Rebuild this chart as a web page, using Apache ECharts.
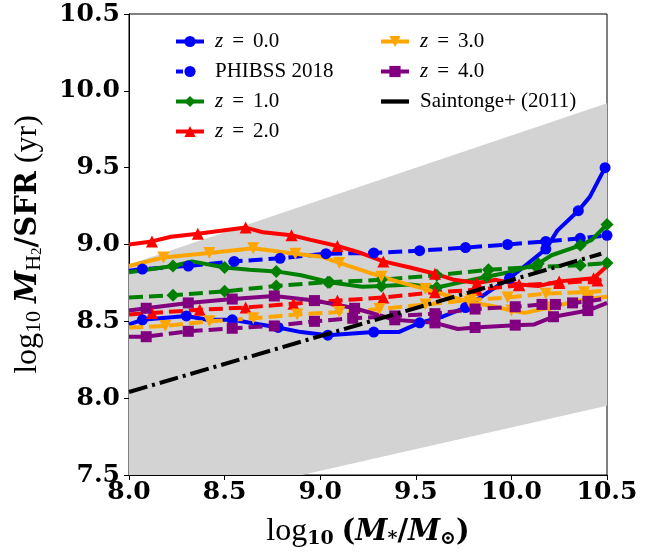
<!DOCTYPE html>
<html><head><meta charset="utf-8">
<script src="https://cdn.jsdelivr.net/npm/echarts@6/dist/echarts.min.js"></script>
<style>html,body{margin:0;padding:0;background:#fff}#c{width:660px;height:554px}</style>
</head><body><div id="c"></div>
<script>
// ---- data ----
const bandX = [8.0, 10.5];
const bandLow = [7.245, 7.95];
const bandHigh = [8.87, 9.92];

const saintX = [8.0, 10.47];
const saintY = [8.04, 8.94];

const z0X = [8.0, 8.07, 8.30, 8.41, 8.54, 8.78, 8.90, 9.04, 9.28, 9.41, 9.52, 9.64, 9.76, 9.89, 9.99, 10.07, 10.18, 10.24, 10.35, 10.41, 10.49];
const z0Y = [8.48, 8.51, 8.535, 8.51, 8.51, 8.46, 8.43, 8.41, 8.43, 8.43, 8.49, 8.53, 8.59, 8.70, 8.78, 8.86, 8.97, 9.09, 9.22, 9.31, 9.50];
const z0M = [0,1,1,0,1,1,0,1,1,0,1,0,1,0,1,0,1,0,1,0,1];

const phX = [8.0, 8.07, 8.31, 8.55, 8.79, 9.03, 9.28, 9.52, 9.76, 9.98, 10.18, 10.36, 10.5];
const phY = [8.83, 8.84, 8.86, 8.89, 8.91, 8.94, 8.945, 8.96, 8.98, 9.0, 9.02, 9.04, 9.06];
const phM = [0,1,1,1,1,1,1,1,1,1,1,1,1];

const z1X = [8.0, 8.23, 8.33, 8.50, 8.63, 8.77, 8.90, 9.05, 9.22, 9.32, 9.47, 9.61, 9.74, 9.87, 9.99, 10.14, 10.21, 10.36, 10.42, 10.5];
const z1Y = [8.82, 8.86, 8.89, 8.85, 8.835, 8.825, 8.80, 8.755, 8.725, 8.73, 8.74, 8.72, 8.755, 8.79, 8.82, 8.875, 8.93, 8.995, 9.03, 9.13];
const z1M = [0,1,0,1,0,1,0,1,0,1,0,1,0,1,0,1,0,1,0,1];

const z1dX = [8.0, 8.23, 8.50, 8.77, 9.04, 9.32, 9.61, 9.88, 10.13, 10.36, 10.5];
const z1dY = [8.655, 8.67, 8.695, 8.73, 8.755, 8.77, 8.80, 8.835, 8.855, 8.865, 8.88];
const z1dM = [0,1,1,1,1,1,1,1,1,1,1];

const z2X = [8.0, 8.12, 8.22, 8.36, 8.61, 8.70, 8.85, 8.95, 9.09, 9.20, 9.33, 9.47, 9.60, 9.70, 9.82, 9.92, 10.04, 10.14, 10.25, 10.43, 10.5];
const z2Y = [9.0, 9.02, 9.05, 9.07, 9.11, 9.08, 9.06, 9.03, 8.99, 8.95, 8.89, 8.85, 8.81, 8.77, 8.75, 8.77, 8.74, 8.73, 8.76, 8.78, 8.86];
const z2M = [0,1,0,1,1,0,1,0,1,0,1,0,1,0,1,0,1,0,1,1,0];

const z2dX = [8.0, 8.12, 8.37, 8.61, 8.86, 9.09, 9.33, 9.60, 9.82, 10.04, 10.25, 10.45, 10.5];
const z2dY = [8.545, 8.555, 8.575, 8.59, 8.615, 8.635, 8.655, 8.69, 8.705, 8.735, 8.75, 8.765, 8.78];
const z2dM = [0,1,1,1,1,1,1,1,1,1,1,1,0];

const z3X = [8.0, 8.18, 8.30, 8.42, 8.65, 8.87, 9.01, 9.10, 9.20, 9.32, 9.43, 9.55, 9.66, 9.78, 9.90, 10.0, 10.07, 10.2, 10.3, 10.4, 10.5];
const z3Y = [8.86, 8.915, 8.93, 8.945, 8.975, 8.94, 8.92, 8.88, 8.84, 8.79, 8.75, 8.71, 8.67, 8.625, 8.60, 8.57, 8.555, 8.59, 8.62, 8.645, 8.66];
const z3M = [0,1,0,1,1,1,0,1,0,1,0,1,0,1,0,1,0,1,0,1,0];

const z3dX = [8.0, 8.19, 8.42, 8.65, 8.88, 9.10, 9.31, 9.55, 9.79, 9.98, 10.18, 10.38, 10.5];
const z3dY = [8.46, 8.47, 8.50, 8.52, 8.545, 8.56, 8.58, 8.61, 8.64, 8.655, 8.68, 8.69, 8.70];
const z3dM = [0,1,1,1,1,1,1,1,1,1,1,1,0];

const z4X = [8.0, 8.09, 8.31, 8.54, 8.76, 8.97, 9.18, 9.39, 9.60, 9.72, 9.81, 10.02, 10.12, 10.22, 10.40, 10.5];
const z4Y = [8.57, 8.585, 8.62, 8.645, 8.665, 8.635, 8.585, 8.51, 8.49, 8.45, 8.46, 8.475, 8.48, 8.53, 8.57, 8.62];
const z4M = [0,1,1,1,1,1,1,1,1,0,1,1,0,1,1,0];

const z4dX = [8.0, 8.09, 8.31, 8.54, 8.76, 8.97, 9.17, 9.39, 9.60, 9.81, 10.02, 10.16, 10.23, 10.32, 10.40, 10.5];
const z4dY = [8.40, 8.40, 8.435, 8.455, 8.47, 8.50, 8.52, 8.535, 8.55, 8.58, 8.595, 8.61, 8.61, 8.62, 8.63, 8.65];
const z4dM = [0,1,1,1,1,1,1,1,1,1,1,1,1,1,1,0];

const legendLeft = ['z = 0.0', 'PHIBSS 2018', 'z = 1.0', 'z = 2.0'];
const legendRight = ['z = 3.0', 'z = 4.0', 'Saintonge+ (2011)'];

// ---- build ----
function mk(xs, ys, m) {
  return xs.map((x, i) => m[i] ? [x, ys[i]] : { value: [x, ys[i]], symbol: 'none' });
}
const DASH = [14, 6];
function line(name, color, xs, ys, m, symbol, size, dashed, rot) {
  return {
    name: name, type: 'line', data: mk(xs, ys, m),
    symbol: symbol, symbolSize: size, symbolRotate: rot || 0,
    showSymbol: true, smooth: false, animation: false,
    lineStyle: { color: color, width: 4, type: dashed ? DASH : 'solid' },
    itemStyle: { color: color },
    emphasis: { disabled: true }, z: 3
  };
}

const series = [
  {
    type: 'custom', name: 'band', silent: true, animation: false, z: 1,
    data: [0],
    renderItem: function (params, api) {
      const pts = [];
      for (let i = 0; i < bandX.length; i++) pts.push(api.coord([bandX[i], bandHigh[i]]));
      for (let i = bandX.length - 1; i >= 0; i--) pts.push(api.coord([bandX[i], bandLow[i]]));
      const cs = params.coordSys;
      return {
        type: 'polygon', shape: { points: pts }, style: { fill: '#d3d3d3' },
        clipPath: { type: 'rect', shape: { x: cs.x, y: cs.y, width: cs.width, height: cs.height } }
      };
    }
  },
  line('z = 0.0', '#0000ff', z0X, z0Y, z0M, 'circle', 11, false),
  line('PHIBSS 2018', '#0000ff', phX, phY, phM, 'circle', 11, true),
  line('z = 1.0', '#008000', z1X, z1Y, z1M, 'diamond', 13, false),
  line('z1d', '#008000', z1dX, z1dY, z1dM, 'diamond', 13, true),
  line('z = 2.0', '#ff0000', z2X, z2Y, z2M, 'triangle', 12, false),
  line('z2d', '#ff0000', z2dX, z2dY, z2dM, 'triangle', 12, true),
  line('z = 3.0', '#ffa500', z3X, z3Y, z3M, 'triangle', 12, false, 180),
  line('z3d', '#ffa500', z3dX, z3dY, z3dM, 'triangle', 12, true, 180),
  line('z = 4.0', '#800080', z4X, z4Y, z4M, 'rect', 11, false),
  line('z4d', '#800080', z4dX, z4dY, z4dM, 'rect', 11, true),
  {
    name: 'Saintonge+ (2011)', type: 'line', animation: false, symbol: 'none', z: 4,
    data: saintX.map((x, i) => [x, saintY[i]]),
    lineStyle: { color: '#000', width: 4, type: [19, 5, 3, 5] },
    itemStyle: { color: '#000' }
  }
];

const legTxt = {
  fontFamily: 'Liberation Serif', fontSize: 21, color: '#000', lineHeight: 20,
  rich: {
    i: { fontFamily: 'Liberation Serif', fontStyle: 'italic', fontSize: 21, padding: [0, 0, 0, 6] },
    e: { fontFamily: 'Liberation Serif', fontSize: 21, padding: [0, 9, 0, 9] },
    p: { fontFamily: 'Liberation Serif', fontSize: 21, padding: [0, 0, 0, 6] }
  }
};
function legFmt(n) {
  if (n.indexOf('z = ') === 0) return '{i|z}{e|=}' + n.slice(4);
  return '{p|' + n + '}';
}
function legData(arr) {
  return arr.map(n => {
    if (n.indexOf('Saintonge') === 0) return { name: n, icon: 'path://M0,0h26v4h-26z', itemStyle: { color: '#000' } };
    if (n.indexOf('PHIBSS') === 0) return { name: n, lineStyle: { type: [7, 40] } };
    return { name: n };
  });
}

const BOLD = 'DejaVu Serif';
const REG = 'Liberation Serif';
const titleRich = {
  n: { fontFamily: REG, fontSize: 32, lineHeight: 34, color: '#000' },
  sp: { fontFamily: REG, fontSize: 32, lineHeight: 34, color: '#000' },
  s: { fontFamily: REG, fontSize: 22, lineHeight: 12, verticalAlign: 'bottom', color: '#000' },
  ss: { fontFamily: REG, fontSize: 15, lineHeight: 4, verticalAlign: 'bottom', color: '#000' },
  sb: { fontFamily: BOLD, fontWeight: 'bold', fontSize: 19, lineHeight: 12, verticalAlign: 'bottom', color: '#000' },
  m: { fontFamily: BOLD, fontWeight: 'bold', fontStyle: 'italic', fontSize: 29, lineHeight: 34, color: '#000' },
  b: { fontFamily: BOLD, fontWeight: 'bold', fontSize: 29, lineHeight: 34, color: '#000' },
  bs: { fontFamily: BOLD, fontWeight: 'bold', fontSize: 19, lineHeight: 12, verticalAlign: 'bottom', color: '#000' }
};

const legCommon = {
  orient: 'vertical', itemWidth: 28, itemHeight: 14, itemGap: 9,
  textStyle: legTxt, formatter: legFmt, selectedMode: false,
  lineStyle: { width: 4 }
};

const option = {
  backgroundColor: '#fff',
  animation: false,
  grid: { left: 129, right: 53, top: 14, bottom: 79, show: true, borderColor: '#000', borderWidth: 1,
          backgroundColor: 'transparent', containLabel: false, outerBoundsMode: 'none' },
  legend: [
    Object.assign({ data: legData(legendLeft), left: 169, top: 26 }, legCommon),
    Object.assign({ data: legData(legendRight), left: 374, top: 26 }, legCommon)
  ],
  xAxis: {
    type: 'value', min: 8.0, max: 10.5, interval: 0.5,
    splitLine: { show: false },
    axisLine: { show: true, onZero: false, lineStyle: { color: '#000', width: 1 } },
    axisTick: { show: true, length: 5, lineStyle: { color: '#000' } },
    axisLabel: { fontFamily: BOLD, fontWeight: 'bold', fontSize: 25, color: '#000', margin: 5, formatter: v => v.toFixed(1) },
    name: '{n|log}{sb|10}{sp| }{b|(}{m|M}{bs|*}{b|/}{m|M}{bs|⊙}{b|)}',
    nameLocation: 'middle', nameGap: 40,
    nameTextStyle: { rich: titleRich }
  },
  yAxis: {
    type: 'value', min: 7.5, max: 10.5, interval: 0.5,
    splitLine: { show: false },
    axisLine: { show: true, onZero: false, lineStyle: { color: '#000', width: 1 } },
    axisTick: { show: true, length: 5, lineStyle: { color: '#000' } },
    axisLabel: { fontFamily: BOLD, fontWeight: 'bold', fontSize: 25, color: '#000', margin: 9, formatter: v => v.toFixed(1) },
    name: '{n|log}{s|10}{sp| }{m|M}{s|H}{ss|2}{b|/SFR}{sp| }{n|(yr)}',
    nameLocation: 'middle', nameGap: 84, nameRotate: 90,
    nameTextStyle: { rich: titleRich }
  },
  series: series
};

const chart = echarts.init(document.getElementById('c'), null, { renderer: 'canvas' });
chart.setOption(option);
</script>
</body></html>
